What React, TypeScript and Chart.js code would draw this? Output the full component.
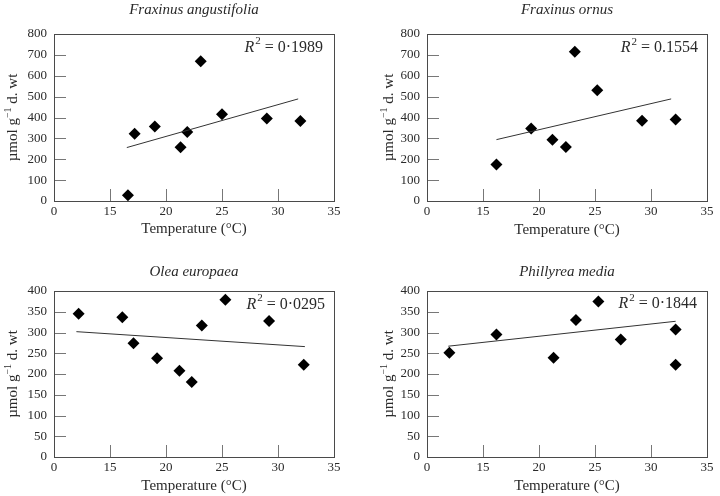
import React, { useEffect, useRef } from "react";
import { Chart, registerables } from "chart.js";

Chart.register(...registerables);

// Broken temperature axis: first tick labelled "0" sits at axis position 10
const xTickValues = [10, 15, 20, 25, 30, 35];
const xTickLabels = ["0", "15", "20", "25", "30", "35"];

// Fraxinus angustifolia
const faTemp = [16.6, 17.2, 19.0, 21.3, 21.9, 23.1, 25.0, 29.0, 32.0];
const faConc = [28, 322, 357, 257, 330, 670, 416, 395, 383];
const faTrendTemp = [16.5, 31.8];
const faTrendConc = [256, 489];

// Fraxinus ornus
const foTemp = [16.2, 19.3, 21.2, 22.4, 23.2, 25.2, 29.2, 32.2];
const foConc = [175, 347, 293, 259, 715, 531, 384, 391];
const foTrendTemp = [16.2, 31.8];
const foTrendConc = [294, 489];

// Olea europaea
const oeTemp = [12.2, 16.1, 17.1, 19.2, 21.2, 22.3, 23.2, 25.3, 29.2, 32.3];
const oeConc = [345, 337, 274, 238, 208, 181, 317, 379, 328, 222];
const oeTrendTemp = [12.0, 32.4];
const oeTrendConc = [302, 266];

// Phillyrea media
const pmTemp = [12.0, 16.2, 21.3, 23.3, 25.3, 27.3, 32.2, 32.2];
const pmConc = [251, 295, 239, 330, 375, 283, 307, 222];
const pmTrendTemp = [11.9, 32.2];
const pmTrendConc = [267, 327];

const titles = ["Fraxinus angustifolia", "Fraxinus ornus", "Olea europaea", "Phillyrea media"];
const r2Values = ["0·1989", "0.1554", "0·0295", "0·1844"];
const yMaxes = [800, 800, 400, 400];
const ySteps = [100, 100, 50, 50];

const FONT = "'Liberation Serif', 'Times New Roman', serif";
const TEXT = "#2a2a2a";

type Layout = {
  left: number; top: number;
  l: number; r: number; t: number; b: number;
  titleY: number; yLabelX: number; xTitlePad: number;
  r2Right: number; r2Y: number;
};

const layouts: Layout[] = [
  { left: 0, top: 0, l: 54, r: 334, t: 34, b: 201, titleY: 10, yLabelX: 13.5, xTitlePad: 10, r2Right: 323, r2Y: 47.5 },
  { left: 360, top: 0, l: 67, r: 347, t: 34, b: 201, titleY: 10, yLabelX: 29.5, xTitlePad: 9, r2Right: 338, r2Y: 48 },
  { left: 0, top: 248, l: 54, r: 334, t: 43, b: 209, titleY: 24, yLabelX: 13.5, xTitlePad: 1, r2Right: 325, r2Y: 56.5 },
  { left: 360, top: 248, l: 67, r: 347, t: 43, b: 209, titleY: 24, yLabelX: 29.5, xTitlePad: 1, r2Right: 337, r2Y: 56 },
];

const seriesTemp = [faTemp, foTemp, oeTemp, pmTemp];
const seriesConc = [faConc, foConc, oeConc, pmConc];
const trendTemp = [faTrendTemp, foTrendTemp, oeTrendTemp, pmTrendTemp];
const trendConc = [faTrendConc, foTrendConc, oeTrendConc, pmTrendConc];

function Panel({ idx }: { idx: number }) {
  const ref = useRef<HTMLCanvasElement>(null);
  useEffect(() => {
    const L = layouts[idx];
    const W = 360, H = 248;
    const decor = {
      id: "decor",
      beforeDatasetsDraw(chart: any) {
        const { ctx, chartArea: a, scales } = chart;
        ctx.save();
        ctx.lineWidth = 1;
        ctx.strokeStyle = "#777";
        ctx.beginPath();
        for (const v of xTickValues) {
          if (v <= scales.x.min || v >= scales.x.max) continue;
          const px = Math.round(scales.x.getPixelForValue(v)) + 0.5;
          ctx.moveTo(px, a.bottom);
          ctx.lineTo(px, a.bottom - 12);
        }
        for (const t of scales.y.ticks) {
          if (t.value <= scales.y.min || t.value >= scales.y.max) continue;
          const py = Math.round(scales.y.getPixelForValue(t.value)) + 0.5;
          ctx.moveTo(a.left, py);
          ctx.lineTo(a.left + 12, py);
        }
        ctx.stroke();
        ctx.strokeStyle = "#4a4a4a";
        ctx.strokeRect(Math.round(a.left) + 0.5, Math.round(a.top) + 0.5, Math.round(a.right - a.left), Math.round(a.bottom - a.top));
        ctx.restore();
      },
      afterDraw(chart: any) {
        const { ctx, chartArea: a } = chart;
        ctx.save();
        ctx.fillStyle = TEXT;
        // title
        ctx.font = `italic 15px ${FONT}`;
        ctx.textAlign = "center";
        ctx.textBaseline = "middle";
        ctx.fillText(titles[idx], (a.left + a.right) / 2, L.titleY);
        // y label with superscript
        ctx.save();
        ctx.translate(L.yLabelX, (a.top + a.bottom) / 2);
        ctx.rotate(-Math.PI / 2);
        ctx.textAlign = "left";
        const p1 = "µmol g", p2 = "−1", p3 = " d. wt";
        ctx.font = `15px ${FONT}`;
        const w1 = ctx.measureText(p1).width;
        const w3 = ctx.measureText(p3).width;
        ctx.font = `10px ${FONT}`;
        const w2 = ctx.measureText(p2).width;
        let x = -(w1 + w2 + w3) / 2;
        ctx.font = `15px ${FONT}`;
        ctx.fillText(p1, x, 0);
        x += w1;
        ctx.font = `10px ${FONT}`;
        ctx.fillText(p2, x, -5);
        x += w2;
        ctx.font = `15px ${FONT}`;
        ctx.fillText(p3, x, 0);
        ctx.restore();
        // R^2
        const q1 = "R", q2 = "2", q3 = " = " + r2Values[idx];
        ctx.font = `italic 16px ${FONT}`;
        const v1 = ctx.measureText(q1).width;
        ctx.font = `11px ${FONT}`;
        const v2 = ctx.measureText(q2).width + 1;
        ctx.font = `16px ${FONT}`;
        const v3 = ctx.measureText(q3).width;
        let rx = L.r2Right - (v1 + v2 + v3);
        ctx.textAlign = "left";
        ctx.font = `italic 16px ${FONT}`;
        ctx.fillText(q1, rx, L.r2Y);
        rx += v1 + 1;
        ctx.font = `11px ${FONT}`;
        ctx.fillText(q2, rx, L.r2Y - 6);
        rx += v2 - 1;
        ctx.font = `16px ${FONT}`;
        ctx.fillText(q3, rx, L.r2Y);
        ctx.restore();
      },
    };

    const xs = seriesTemp[idx], ys = seriesConc[idx];
    const tx = trendTemp[idx], ty = trendConc[idx];
    const chart = new Chart(ref.current as HTMLCanvasElement, {
      type: "scatter",
      data: {
        datasets: [
          {
            data: tx.map((x, i) => ({ x, y: ty[i] })),
            showLine: true,
            borderColor: "#333",
            borderWidth: 1,
            pointRadius: 0,
            fill: false,
            clip: false as any,
          },
          {
            data: xs.map((x, i) => ({ x, y: ys[i] })),
            pointStyle: "rectRot",
            pointRadius: 6,
            backgroundColor: "#000",
            borderColor: "#000",
            borderWidth: 0,
            clip: false as any,
          },
        ],
      },
      options: {
        responsive: false,
        animation: false,
        events: [],
        layout: { padding: { left: 0, top: L.t, right: W - L.r, bottom: 0 } },
        plugins: { legend: { display: false }, tooltip: { enabled: false }, title: { display: false } },
        scales: {
          x: {
            type: "linear",
            min: 10,
            max: 35,
            grid: { display: false, drawTicks: false },
            border: { display: false },
            afterFit: (s: any) => { s.height = H - L.b; },
            afterBuildTicks: (s: any) => { s.ticks = xTickValues.map((v) => ({ value: v })); },
            ticks: {
              autoSkip: false,
              maxRotation: 0,
              padding: 3,
              color: TEXT,
              font: { family: FONT, size: 13 },
              callback: (v: any) => {
                const i = xTickValues.indexOf(Number(v));
                return i >= 0 ? xTickLabels[i] : "";
              },
            },
            title: {
              display: true,
              text: "Temperature (°C)",
              color: TEXT,
              font: { family: FONT, size: 15 },
              padding: { top: 0, bottom: L.xTitlePad },
            },
          },
          y: {
            type: "linear",
            min: 0,
            max: yMaxes[idx],
            grid: { display: false, drawTicks: false },
            border: { display: false },
            afterFit: (s: any) => { s.width = L.l; },
            ticks: {
              stepSize: ySteps[idx],
              padding: 7,
              color: TEXT,
              font: { family: FONT, size: 13 },
            },
          },
        },
      } as any,
      plugins: [decor],
    });
    return () => chart.destroy();
  }, [idx]);
  const L = layouts[idx];
  return (
    <canvas
      ref={ref}
      width={360}
      height={248}
      style={{ position: "absolute", left: L.left, top: L.top, width: 360, height: 248 }}
    />
  );
}

export default function App() {
  return (
    <div style={{ position: "absolute", left: 0, top: 0, width: 720, height: 496, background: "#fff" }}>
      {[0, 1, 2, 3].map((i) => (
        <Panel key={i} idx={i} />
      ))}
    </div>
  );
}
